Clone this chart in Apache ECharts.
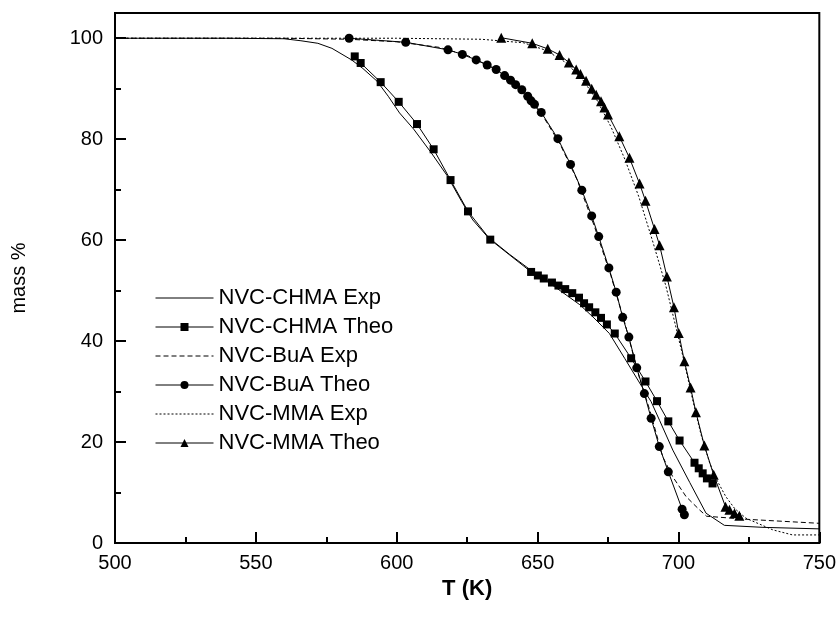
<!DOCTYPE html>
<html>
<head>
<meta charset="utf-8">
<script src="https://cdn.jsdelivr.net/npm/echarts@6/dist/echarts.min.js"></script>
<style>
  html, body { margin: 0; padding: 0; background: #fff; }
  #chart { width: 839px; height: 618px; }
</style>
</head>
<body>
<div id="chart"></div>
<script>
// T (K), mass %
const chmaExp = [[500,100],[540,100],[560,99.9],[566,99.5],[572,99],[577,98],[584,95.7],[588,94],[593,91.5],[597,88.5],[601,85.2],[606,82],[612,77.5],[618,72.7],[623,67.7],[627,64],[632,60.8],[640,57.2],[647,54.3],[656,50.8],[665,47.2],[670,44.6],[675.5,41.5],[681,36.5],[687,31],[690.3,28],[693.3,24.3],[698,18.4],[704,12],[709.8,5.9],[716.3,3.5],[730,3.1],[750,2.8]];
const chmaTheo = [[585.1,96.4],[587.2,95.1],[594.3,91.3],[600.7,87.4],[607.2,83.0],[613.1,78.0],[619.1,71.9],[625.3,65.7],[633.2,60.1],[647.7,53.7],[650.1,53.0],[652.2,52.4],[655.1,51.6],[657.4,51.0],[659.8,50.3],[662.3,49.5],[664.7,48.6],[666.5,47.5],[668.3,46.7],[670.5,45.7],[672.5,44.6],[674.6,43.3],[677.4,41.5],[683.2,36.6],[688.3,32.0],[692.4,28.1],[696.4,24.1],[700.4,20.3],[705.7,15.9],[707.2,14.8],[708.6,13.8],[710.1,12.8],[712.1,11.8]];
const buaExp = [[500,100],[560,100],[583,99.8],[600,99.3],[615,98.2],[625,96.6],[635,93.9],[645,89.5],[652,84.5],[658,79],[664,72],[670,63],[676,53],[681,43.5],[686,33],[690,26],[694.4,17.1],[698,13.1],[702.7,9.2],[707.4,6.6],[710,5.3],[724,4.7],[750,3.9]];
const buaTheo = [[583.1,100],[603.2,99.2],[618.2,97.7],[623.3,96.8],[628.2,95.7],[632.1,94.7],[635.3,93.8],[638.3,92.6],[640.4,91.7],[642.2,90.8],[644.4,89.8],[646.5,88.5],[647.7,87.6],[648.9,86.9],[651.3,85.3],[657.2,80.1],[661.7,75.0],[665.7,69.9],[669.2,64.8],[671.7,60.7],[675.3,54.5],[677.9,49.7],[680.2,44.7],[682.4,40.8],[685.2,34.7],[687.9,29.6],[690.3,24.7],[693.2,19.1],[696.4,14.1],[701.3,6.7],[702.1,5.6]];
const mmaExp = [[500,100],[600,100],[630,99.8],[645,99.1],[653,97.6],[660,95.2],[666,91.8],[671,87.8],[676,82.5],[681,76],[686,68.5],[691,59.5],[695.5,51],[699,43],[702,36],[705,28.5],[708,21.5],[711,16],[713.3,12.8],[716.8,9.2],[720,6.8],[724,4.9],[733.5,2.6],[740.5,1.6],[750,1.6]];
const mmaTheo = [[637.1,100.1],[648.1,99.0],[653.6,97.9],[657.8,96.7],[661.1,95.2],[663.7,93.8],[665.2,92.9],[667.2,91.6],[669.2,90.0],[670.8,88.8],[672.5,87.5],[673.7,86.3],[675,84.9],[679,80.6],[682.6,76.3],[686.2,71.2],[688.3,67.8],[691.5,62.2],[693.3,59.0],[695.9,52.8],[698.4,46.7],[700.1,41.6],[702.1,36.0],[704.3,30.8],[706.2,25.9],[709.2,19.3],[712.5,13.5],[716.7,7.2],[718.1,6.6],[719.9,5.9],[721.6,5.4]];

const names = ["NVC-CHMA Exp", "NVC-CHMA Theo", "NVC-BuA Exp", "NVC-BuA Theo", "NVC-MMA Exp", "NVC-MMA Theo"];

const font = "'Liberation Sans', Arial, sans-serif";
const myChart = echarts.init(document.getElementById("chart"));

function expLine(name, data, type) {
  return {
    name: name,
    type: "line",
    data: data,
    symbol: "none",
    lineStyle: { color: "#000", width: 1, type: type },
    itemStyle: { color: "#000" },
    z: 2
  };
}
function theoLine(name, data, symbol, size) {
  return {
    name: name,
    type: "line",
    data: data,
    symbol: symbol,
    symbolSize: size,
    showSymbol: true,
    lineStyle: { color: "#000", width: 1 },
    itemStyle: { color: "#000" },
    z: 3
  };
}

const option = {
  animation: false,
  backgroundColor: "#fff",
  grid: {
    left: 115, right: 18, top: 13, bottom: 75,
    show: true, borderColor: "#000", borderWidth: 2
  },
  legend: {
    orient: "vertical",
    left: 150,
    top: 282,
    itemWidth: 58,
    itemHeight: 10,
    itemGap: 7,
    selectedMode: false,
    lineStyle: { width: 1 },
    itemStyle: { borderWidth: 0 },
    textStyle: { fontFamily: font, fontSize: 22, color: "#000", lineHeight: 22 },
    data: [
      { name: names[0], itemStyle: { opacity: 0 } },
      { name: names[1] },
      { name: names[2], itemStyle: { opacity: 0 } },
      { name: names[3] },
      { name: names[4], itemStyle: { opacity: 0 } },
      { name: names[5] }
    ]
  },
  xAxis: {
    type: "value",
    min: 500, max: 750, interval: 50,
    name: "T (K)",
    nameLocation: "middle",
    nameGap: 34,
    nameTextStyle: { fontFamily: font, fontSize: 22, fontWeight: "bold", color: "#000" },
    axisLine: { lineStyle: { color: "#000", width: 2 } },
    axisTick: { inside: true, length: 11, lineStyle: { color: "#000", width: 2 } },
    minorTick: { show: true, splitNumber: 2, length: 6, lineStyle: { color: "#000", width: 2 } },
    axisLabel: { fontFamily: font, fontSize: 20, color: "#000", margin: 10 },
    splitLine: { show: false }
  },
  yAxis: [
    {
      type: "value",
      min: 0, max: 105, interval: 20,
      position: "left",
      name: "mass %",
      nameLocation: "middle",
      nameGap: 86,
      nameTextStyle: { fontFamily: font, fontSize: 20, color: "#000" },
      axisLine: { lineStyle: { color: "#000", width: 2 } },
      axisTick: { inside: true, length: 11, lineStyle: { color: "#000", width: 2 } },
      axisLabel: { fontFamily: font, fontSize: 20, color: "#000", margin: 12, showMaxLabel: false,
        formatter: v => (v % 20 === 0 ? String(v) : "") },
      splitLine: { show: false }
    },
    {
      type: "value",
      min: 0, max: 105, interval: 10,
      position: "left",
      axisLine: { show: true, lineStyle: { color: "#000", width: 2 } },
      axisTick: { inside: true, length: 6, lineStyle: { color: "#000", width: 2 } },
      axisLabel: { show: false },
      splitLine: { show: false }
    }
  ],
  series: [
    expLine(names[0], chmaExp, "solid"),
    theoLine(names[1], chmaTheo, "rect", 8),
    expLine(names[2], buaExp, [5, 3]),
    theoLine(names[3], buaTheo, "circle", 9),
    expLine(names[4], mmaExp, [2, 2]),
    theoLine(names[5], mmaTheo, "triangle", 10)
  ]
};

myChart.setOption(option);
</script>
</body>
</html>
